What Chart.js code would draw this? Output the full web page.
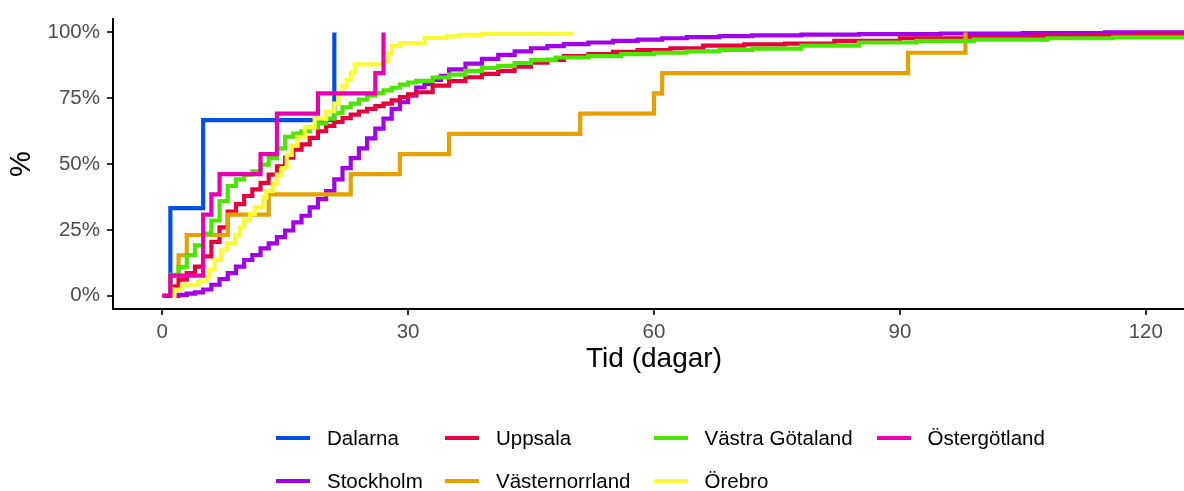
<!DOCTYPE html>
<html lang="sv">
<head>
<meta charset="utf-8">
<title>Tid (dagar)</title>
<script src="https://cdn.jsdelivr.net/npm/chart.js@4"></script>
<style>
  html, body { margin: 0; padding: 0; background: #fff; overflow: hidden; }
  #wrap { position: relative; width: 1196px; height: 491px; }
  #legend {
    position: absolute; left: 276px; top: 416px;
    font-family: "Liberation Sans", Arial, sans-serif; font-size: 20.5px; color: #000;
    display: grid; grid-auto-flow: column;
    grid-template-rows: 43px 43px;
    grid-template-columns: 169px 208.5px 223px auto;
  }
  .item { display: flex; align-items: center; white-space: nowrap; }
  .key { width: 34px; height: 4px; margin-right: 17px; }
</style>
</head>
<body>
<div id="wrap">
  <canvas id="chart" width="1196" height="491"></canvas>
  <div id="legend"></div>
</div>
<script>
// regions in legend order (column by column)
const regions = ['Dalarna', 'Stockholm', 'Uppsala', 'Västernorrland', 'Västra Götaland', 'Örebro', 'Östergötland'];
const colors = ['#0050E6', '#A100E8', '#E6003D', '#E6A000', '#4BE600', '#FAFA37', '#E600AF'];

const xTicks = [0, 30, 60, 90, 120];
const yTicks = [0, 25, 50, 75, 100];

const dalarnaDays = [0, 1, 5, 21];
const dalarnaPct = [0, 33.3, 66.7, 100];

const stockholmDays = [0, 2, 3, 4, 5, 6, 7, 8, 9, 10, 11, 12, 13, 14, 15, 16, 17, 18, 19, 20,
  21, 22, 23, 24, 25, 26, 27, 28, 29, 30, 31, 32, 33, 34, 35, 37, 39, 41, 43, 45, 47, 49,
  52, 55, 58, 61, 64, 68, 72, 78, 85, 95, 105, 115, 126];
const stockholmPct = [0, 0.4, 0.8, 1.3, 2.4, 4.2, 6.4, 8.6, 11.1, 13.6, 15.5, 18, 19.9, 22.3, 24.8, 27.9, 30.4, 33.6, 36.7, 39.8,
  44.2, 48.5, 52.3, 56, 59.8, 63.5, 67.3, 71, 73.5, 76, 79.1, 80.5, 82, 83.5, 86, 88.2, 90, 91.5, 92.8, 94, 94.8, 95.6,
  96.2, 96.8, 97.3, 97.8, 98.2, 98.6, 98.9, 99.2, 99.4, 99.6, 99.8, 100, 100];

const uppsalaDays = [0, 1, 2, 3, 4, 5, 6, 7, 8, 9, 10, 11, 12, 13, 14, 15, 16, 17, 18, 19, 20,
  21, 22, 23, 24, 25, 26, 27, 28, 29, 30, 31, 33, 35, 37, 39, 41, 43, 45, 47, 49,
  52, 55, 58, 62, 66, 71, 76, 82, 90, 98, 106, 113, 119, 126];
const uppsalaPct = [0, 3.6, 6.1, 8.6, 11.1, 15, 20.5, 26, 32, 34.8, 37.9, 40.4, 42.9, 46, 49.2, 52.5, 55.5, 57.5, 60, 62.5, 64.5,
  66, 67.5, 68.8, 70, 71, 72, 73, 74.2, 75.5, 76.5, 77.3, 79.8, 81.5, 83, 84.3, 85.4, 87, 88.5, 89.6, 91,
  91.8, 92.6, 93.3, 94, 95, 95.5, 95.8, 96.8, 97.8, 98.2, 98.5, 98.9, 99.2, 99.5];

const vasternorrlandDays = [0, 1, 2, 3, 8, 13, 23, 29, 35, 51, 60, 61, 91, 98];
const vasternorrlandPct = [0, 7.7, 15.4, 23.1, 30.8, 38.5, 46.2, 53.8, 61.5, 69.2, 76.9, 84.6, 92.3, 100];

const vastraGotalandDays = [0, 1, 2, 3, 4, 5, 6, 7, 8, 9, 10, 11, 12, 13, 14, 15, 16, 17, 18, 19, 20,
  21, 22, 23, 24, 25, 26, 27, 28, 29, 30, 31, 33, 35, 37, 39, 41, 43, 45, 48,
  52, 56, 60, 64, 68, 72, 78, 85, 92, 99, 108, 116, 126];
const vastraGotalandPct = [0, 8, 11, 15.5, 19.2, 23.6, 28.6, 36, 41.7, 44.2, 46, 47.3, 49.8, 52.3, 56, 60.4, 61.6, 62.5, 64, 65.5, 67.3,
  69.5, 71.6, 73, 74.5, 76, 77, 78, 79, 80.2, 81, 81.6, 82.9, 84, 85.4, 86.5, 87.3, 88.4, 89.5, 90.5,
  91, 91.8, 92.3, 92.8, 93.4, 93.9, 95, 96.2, 96.8, 97.3, 97.8, 98.1, 98.4];

const orebroDays = [0, 1.5, 2.4, 4.4, 5.4, 5.7, 6.4, 7.2, 7.9, 8.9, 9.5, 10, 10.7, 11.3, 12.3, 12.7, 13.5, 14, 14.6, 15.2,
  15.8, 16.5, 17.4, 18.6, 20, 21, 21.5, 22, 22.5, 23, 23.5, 27, 27.6, 28, 29, 32, 34.7, 36.3, 39, 50];
const orebroPct = [0, 2.4, 4.2, 5.5, 7.3, 9.9, 13.6, 17.3, 19.9, 23, 26, 28.6, 31, 33.6, 37.3, 39.8, 42.9, 46, 48.5, 53.5,
  57, 60.4, 64, 67.3, 70, 73, 76.5, 79.5, 82, 84.8, 87.9, 89.1, 92, 94.8, 96, 97.9, 98.5, 99.1, 99.5, 100];

const ostergotlandDays = [0, 1, 5, 6, 7, 12, 14, 19, 26, 27];
const ostergotlandPct = [0, 7.7, 30.8, 38.5, 46.2, 53.8, 69.2, 76.9, 84.6, 100];

const seriesDays = [dalarnaDays, stockholmDays, uppsalaDays, vasternorrlandDays, vastraGotalandDays, orebroDays, ostergotlandDays];
const seriesPct = [dalarnaPct, stockholmPct, uppsalaPct, vasternorrlandPct, vastraGotalandPct, orebroPct, ostergotlandPct];

const FONT = '"Liberation Sans", Arial, sans-serif';
Chart.defaults.font.family = FONT;

// last region is drawn on top, like in the original
const datasets = regions.map((name, i) => ({
  label: name,
  data: seriesDays[i].map((d, j) => ({x: d, y: seriesPct[i][j]})),
  borderColor: colors[i],
  backgroundColor: colors[i],
  borderWidth: 4.2,
  stepped: 'before',
  pointRadius: 0,
  fill: false,
  borderJoinStyle: 'miter',
  order: regions.length - 1 - i,
}));

const axisTick = {display: true, drawOnChartArea: false, drawTicks: true, tickLength: 6, color: '#333333', lineWidth: 2};

new Chart(document.getElementById('chart').getContext('2d'), {
  type: 'line',
  data: {datasets},
  options: {
    responsive: false,
    animation: false,
    layout: {padding: {top: 16, right: 1, bottom: 115, left: 0}},
    plugins: {legend: {display: false}, tooltip: {enabled: false}},
    scales: {
      x: {
        type: 'linear', min: -6, max: 126,
        grid: axisTick,
        border: {display: true, color: '#000', width: 2},
        ticks: {color: '#4D4D4D', font: {size: 20.5}, padding: 5, maxRotation: 0},
        afterBuildTicks: s => { s.ticks = xTicks.map(v => ({value: v})) },
        afterFit: s => { s.height = 67 },
        title: {display: true, text: 'Tid (dagar)', color: '#000', font: {size: 28}, padding: {top: 0, bottom: 0}},
      },
      y: {
        type: 'linear', min: -5, max: 105,
        grid: axisTick,
        border: {display: true, color: '#000', width: 2},
        ticks: {color: '#4D4D4D', font: {size: 20.5}, padding: 7, callback: v => v + '%'},
        afterBuildTicks: s => { s.ticks = yTicks.map(v => ({value: v})) },
        afterFit: s => { s.width = 113 },
        title: {display: true, text: '%', color: '#000', font: {size: 29}, padding: {top: 5, bottom: 0}},
      }
    }
  }
});

// legend, two rows filled column by column
const legend = document.getElementById('legend');
regions.forEach((name, i) => {
  const item = document.createElement('div');
  item.className = 'item';
  const key = document.createElement('span');
  key.className = 'key';
  key.style.background = colors[i];
  const label = document.createElement('span');
  label.textContent = name;
  item.appendChild(key);
  item.appendChild(label);
  legend.appendChild(item);
});
</script>
</body>
</html>
